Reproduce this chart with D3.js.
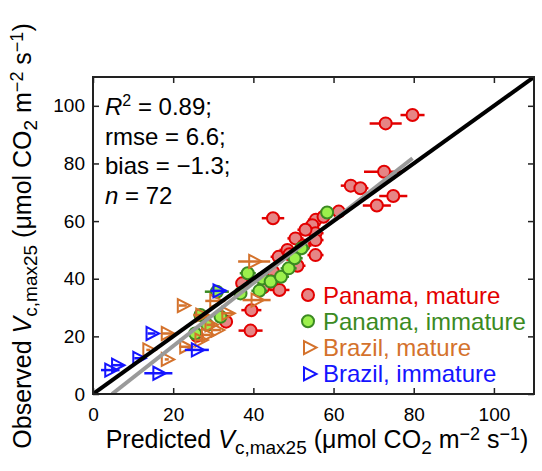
<!DOCTYPE html>
<html><head><meta charset="utf-8">
<script src="https://cdn.jsdelivr.net/npm/d3@7"></script>
<style>body{margin:0;background:#fff}svg{display:block;font-family:"Liberation Sans",Arial,sans-serif}</style>
</head><body>
<svg id="c" width="542" height="471"></svg>
<script>
// Panama, mature
const panMatX = [79.7, 73.0, 72.6, 64.3, 66.7, 74.9, 70.8, 61.3, 44.9, 55.6, 54.7, 55.5, 55.5, 50.5, 55.5, 46.3, 51.0, 44.9, 44.5, 46.5, 39.5, 39.3, 33.2, 37.2, 25.9, 52.5, 48.5, 53.0, 49.0, 42.5, 57.5];
const panMatY = [96.8, 93.9, 77.1, 72.3, 71.4, 68.7, 65.4, 63.3, 61.0, 60.5, 58.6, 55.8, 53.4, 54.0, 48.2, 47.6, 44.5, 42.4, 39.0, 36.1, 29.1, 22.0, 25.1, 38.4, 20.2, 51.5, 50.0, 57.0, 48.5, 37.0, 61.5];
const panMatErr = [3, 4, 5, 2.5, 2, 3.5, 3.5, 2, 2.8, 2, 2, 2, 2, 2, 2, 2, 2, 2, 2, 2.5, 2.5, 3, 1.5, 1.5, 1.5, 2, 2, 2, 2, 2, 2];
// Panama, immature
const panImmX = [30.9, 38.6, 42.2, 41.5, 36.8, 26.8, 31.8, 25.5, 44.3, 46.9, 48.8, 50.3, 52.0, 58.4, 28.5];
const panImmY = [35.5, 41.9, 40.1, 35.8, 34.9, 27.4, 26.8, 21.0, 39.0, 40.7, 43.6, 47.1, 50.6, 63.0, 24.0];
const panImmErr = [3, 2, 2, 2, 1.5, 1.5, 1.5, 1.5, 2, 2, 2, 2, 2, 1.5, 1.5];
// Brazil, mature
const braMatX = [13.8, 18.4, 18.4, 22.4, 23.0, 26.8, 28.4, 27.0, 29.3, 30.9, 30.5, 40.8, 40.2, 33.5];
const braMatY = [15.3, 12.0, 21.0, 30.7, 16.4, 18.7, 20.5, 27.4, 24.0, 22.2, 32.3, 32.6, 46.0, 28.0];
const braMatErr = [0.5, 0.5, 1.5, 1, 1.5, 1, 1, 2, 1, 1, 2.5, 3.5, 4, 1.5];
// Brazil, immature
const braImmX = [4.3, 6.0, 11.3, 14.6, 16.3, 25.9, 31.3];
const braImmY = [8.3, 10.0, 12.4, 21.0, 7.2, 15.3, 35.8];
const braImmErr = [2.3, 1.5, 1, 1, 3.5, 3, 2];

const seriesNames = ["Panama, mature", "Panama, immature", "Brazil, mature", "Brazil, immature"];
const tickVals = [0, 20, 40, 60, 80, 100];
const fitLine = [[4.75, 0], [79.7, 81.8]];
const oneToOne = [[0, 0], [110, 110]];
const statLines = ["rmse = 6.6;", "bias = \u22121.3;"];

const svg = d3.select("#c");
const L = 93, R = 534, T = 77, B = 394;
const x = d3.scaleLinear().domain([0, 110]).range([L, R]);
const y = d3.scaleLinear().domain([0, 110]).range([B, T]);

const styles = [
  {fill: "#e68585", stroke: "#e30000", shape: "circle", text: "#e30000"},
  {fill: "#9cf04c", stroke: "#3b8a22", shape: "circle", text: "#3b8a22"},
  {fill: "none", stroke: "#d4722c", shape: "tri", text: "#d4722c"},
  {fill: "none", stroke: "#1414ff", shape: "tri", text: "#1414ff"}
];
const data = [
  [panMatX, panMatY, panMatErr],
  [panImmX, panImmY, panImmErr],
  [braMatX, braMatY, braMatErr],
  [braImmX, braImmY, braImmErr]
];
const triPath = "M-5,-6.5L7.5,0L-5,6.5Z";

svg.append("clipPath").attr("id", "clip").append("rect")
  .attr("x", L).attr("y", T).attr("width", R - L).attr("height", B - T);

const gPts = svg.append("g").attr("clip-path", "url(#clip)");
data.forEach((d, si) => {
  const st = styles[si];
  const g = gPts.append("g");
  const pts = d[0].map((v, i) => ({x: v, y: d[1][i], e: d[2][i]}));
  g.selectAll("line.eb").data(pts).enter().append("line")
    .attr("x1", p => x(p.x - p.e)).attr("x2", p => x(p.x + p.e))
    .attr("y1", p => y(p.y)).attr("y2", p => y(p.y))
    .attr("stroke", st.stroke).attr("stroke-width", 2.5);
  if (st.shape === "circle") {
    g.selectAll("circle").data(pts).enter().append("circle")
      .attr("cx", p => x(p.x)).attr("cy", p => y(p.y)).attr("r", 6)
      .attr("fill", st.fill).attr("stroke", st.stroke).attr("stroke-width", 2);
  } else {
    g.selectAll("path").data(pts).enter().append("path")
      .attr("d", triPath).attr("transform", p => `translate(${x(p.x)},${y(p.y)})`)
      .attr("fill", "none").attr("stroke", st.stroke).attr("stroke-width", 2);
  }
});

const lineGen = d3.line().x(d => x(d[0])).y(d => y(d[1]));
gPts.append("path").attr("d", lineGen(fitLine)).attr("stroke", "#9a9a9a").attr("stroke-width", 4).attr("fill", "none");
gPts.append("path").attr("d", lineGen(oneToOne)).attr("stroke", "#000").attr("stroke-width", 4).attr("fill", "none");

// axes
function styleAxis(g) {
  g.select(".domain").remove();
  g.selectAll(".tick line").attr("stroke", "#222").attr("stroke-width", 1.5);
  g.selectAll("text").attr("font-size", 19).attr("fill", "#000").attr("font-family", "Liberation Sans, Arial, sans-serif");
}
svg.append("g").attr("transform", `translate(0,${B})`)
  .call(d3.axisBottom(x).tickValues(tickVals).tickSizeInner(-6).tickSizeOuter(0).tickPadding(14))
  .call(styleAxis);
svg.append("g").attr("transform", `translate(${L},0)`)
  .call(d3.axisLeft(y).tickValues(tickVals).tickSizeInner(-6).tickSizeOuter(0).tickPadding(8))
  .call(styleAxis);
svg.append("g").attr("transform", `translate(0,${T})`)
  .call(d3.axisTop(x).tickValues(tickVals).tickSizeInner(-6).tickSizeOuter(0).tickFormat(""))
  .call(styleAxis);
svg.append("g").attr("transform", `translate(${R},0)`)
  .call(d3.axisRight(y).tickValues(tickVals).tickSizeInner(-6).tickSizeOuter(0).tickFormat(""))
  .call(styleAxis);
svg.append("rect").attr("x", L).attr("y", T).attr("width", R - L).attr("height", B - T)
  .attr("fill", "none").attr("stroke", "#222").attr("stroke-width", 2);

// stats text
const st = svg.append("g").attr("font-size", 24).attr("fill", "#000");
const t1 = st.append("text").attr("x", 105).attr("y", 115);
t1.append("tspan").attr("font-style", "italic").text("R");
t1.append("tspan").attr("font-size", 16).attr("dy", -9).text("2");
t1.append("tspan").attr("dy", 9).text(" = 0.89;");
statLines.forEach((s, i) => st.append("text").attr("x", 105).attr("y", 144.5 + i * 29.5).text(s));
const t4 = st.append("text").attr("x", 105).attr("y", 203.5);
t4.append("tspan").attr("font-style", "italic").text("n");
t4.append("tspan").text(" = 72");

// legend
const lg = svg.append("g");
seriesNames.forEach((name, i) => {
  const s = styles[i];
  const cy = 295 + i * 26.3;
  if (s.shape === "circle") {
    lg.append("circle").attr("cx", 308).attr("cy", cy).attr("r", 6)
      .attr("fill", s.fill).attr("stroke", s.stroke).attr("stroke-width", 2);
  } else {
    lg.append("path").attr("d", triPath).attr("transform", `translate(309,${cy})`)
      .attr("fill", "none").attr("stroke", s.stroke).attr("stroke-width", 2);
  }
  lg.append("text").attr("x", 323).attr("y", cy + 8.5).attr("font-size", 24)
    .attr("fill", s.text).text(name);
});

// axis titles
function title(sel, word) {
  sel.append("tspan").text(word + " ");
  sel.append("tspan").attr("font-style", "italic").text("V");
  sel.append("tspan").attr("font-size", 19).attr("dy", 6).text("c,max25");
  sel.append("tspan").attr("dy", -6).text(" (\u03bcmol CO");
  sel.append("tspan").attr("font-size", 19).attr("dy", 6).text("2");
  sel.append("tspan").attr("dy", -6).text(" m");
  sel.append("tspan").attr("font-size", 18).attr("dy", -8).text("\u22122");
  sel.append("tspan").attr("dy", 8).text(" s");
  sel.append("tspan").attr("font-size", 18).attr("dy", -8).text("\u22121");
  sel.append("tspan").attr("dy", 8).text(")");
}
const xt = svg.append("text").attr("x", 317).attr("y", 448).attr("font-size", 25)
  .attr("text-anchor", "middle").attr("fill", "#000");
title(xt, "Predicted");
const yt = svg.append("text").attr("transform", "translate(31,236) rotate(-90)")
  .attr("font-size", 25).attr("text-anchor", "middle").attr("fill", "#000");
title(yt, "Observed");
</script>
</body></html>
